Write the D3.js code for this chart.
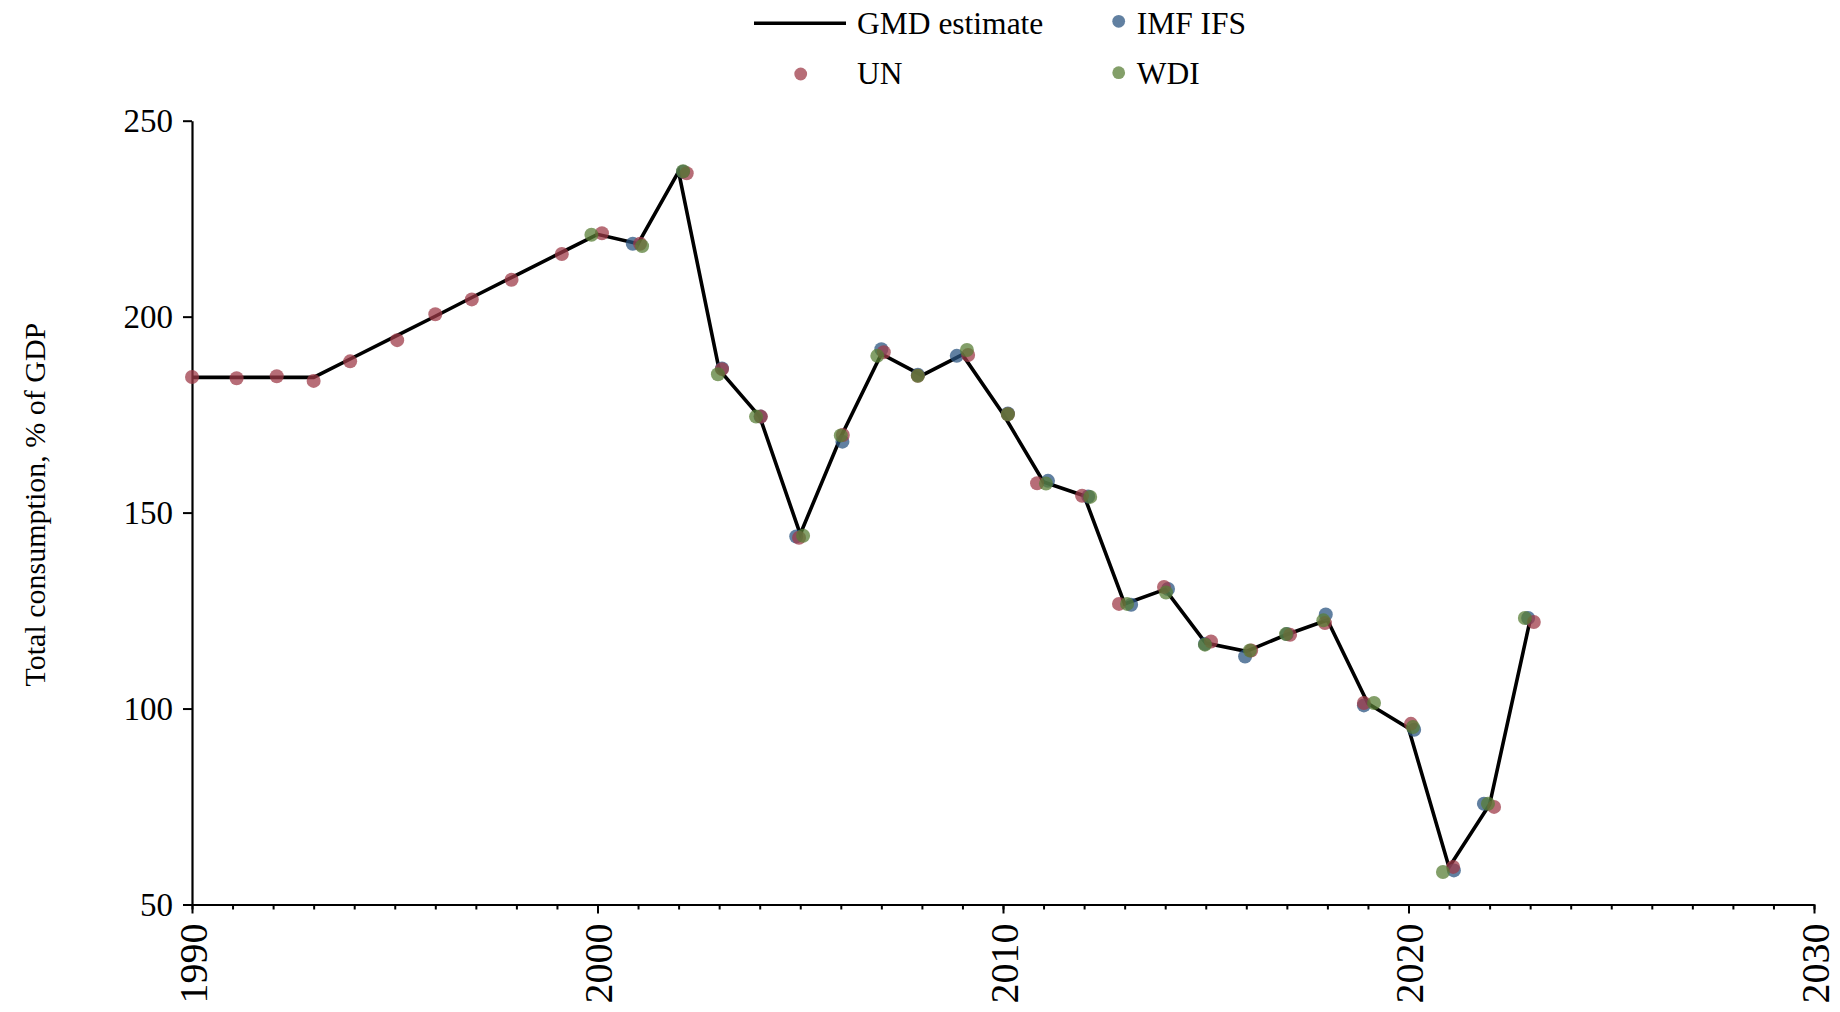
<!DOCTYPE html>
<html>
<head>
<meta charset="utf-8">
<script src="https://cdn.jsdelivr.net/npm/d3@7"></script>
<style>
  html, body { margin: 0; padding: 0; background: #fff; }
  svg { display: block; font-family: "Liberation Serif", "Times New Roman", serif; }
</style>
</head>
<body>
<svg id="chart" width="1840" height="1012"></svg>
<script>
// ---- data ----
const years = [1990,1991,1992,1993,1994,1995,1996,1997,1998,1999,
               2000,2001,2002,2003,2004,2005,2006,2007,2008,2009,
               2010,2011,2012,2013,2014,2015,2016,2017,2018,2019,
               2020,2021,2022,2023];

const gmdValues = [184.5,184.5,184.5,184.5,189.7,194.9,200.1,205.4,210.6,215.8,
                   221.0,218.6,237.0,186.5,174.5,144.5,169.3,190.5,185.0,190.3,
                   175.2,157.8,154.3,126.7,130.4,116.7,114.6,118.9,122.6,101.3,
                   95.0,59.5,75.5,122.6];

const unValues = [184.6,184.3,184.8,183.6,188.6,194.0,200.6,204.4,209.4,216.0,
                  221.3,218.6,236.6,186.6,174.5,143.6,169.8,190.9,184.9,190.2,
                  175.1,157.5,154.3,126.7,131.0,117.1,114.8,118.8,121.8,101.4,
                  96.1,59.6,74.9,122.1];
const unOffsets = [0,0.1,0.09,0,-0.1,0.06,0,-0.1,-0.12,0.12,
                   0.11,0.05,0.2,0.07,0.03,-0.03,0.05,0.06,-0.1,0.14,
                   0.12,-0.16,-0.05,-0.14,-0.03,0.13,0.12,0.08,-0.06,-0.1,
                   0.06,0.1,0.11,0.09];

const imfValues = [null,null,null,null,null,null,null,null,null,null,
                   null,218.6,237.0,186.8,174.5,143.9,168.1,191.7,185.2,190.0,
                   175.3,158.1,154.1,126.5,130.5,116.5,113.3,119.0,124.0,100.8,
                   94.6,58.7,75.7,123.1];
const imfOffsets = [0,0,0,0,0,0,0,0,0,0,
                    0,-0.13,0.11,0.07,0.02,-0.1,0.04,0,-0.1,-0.14,
                    0.12,0.11,0.1,0.16,0.07,-0.02,-0.03,0,-0.04,-0.1,
                    0.14,0.12,-0.14,-0.05];

const wdiValues = [null,null,null,null,null,null,null,null,null,null,
                   220.9,218.0,237.1,185.3,174.5,144.1,169.7,190.0,184.9,191.5,
                   175.1,157.4,154.0,126.7,129.6,116.3,114.8,119.0,122.5,101.4,
                   95.3,58.3,75.7,123.1];
const wdiOffsets = [0,0,0,0,0,0,0,0,0,0,
                    -0.15,0.1,0.11,-0.03,-0.09,0.07,0,-0.1,-0.1,0.11,
                    0.12,0.06,0.15,0.06,0.02,-0.02,0.09,-0.02,-0.1,0.15,
                    0.11,-0.15,-0.04,-0.13];

const yTicks = [50,100,150,200,250];
const xMajorTicks = [1990,2000,2010,2020,2030];
const xMinorTicks = d3.range(1990, 2031);

const seriesNames = ["GMD estimate","IMF IFS","UN","WDI"];
const colors = { imf: "#2a5480", un: "#9e3a47", wdi: "#587d35" };

// ---- layout ----
const svg = d3.select("#chart");
const plotLeft = 192, plotRight = 1814, plotTop = 120.7, plotBottom = 904.5;
const x = d3.scaleLinear().domain([1990, 2030]).range([plotLeft, plotRight]);
const y = d3.scaleLinear().domain([50, 250]).range([plotBottom, plotTop]);
const font = '"Liberation Serif", "Times New Roman", serif';

// x axis minor ticks
const gxMinor = svg.append("g").attr("transform", `translate(0,${plotBottom})`)
  .call(d3.axisBottom(x).tickValues(xMinorTicks).tickSize(5).tickFormat(""));
gxMinor.select(".domain").remove();
gxMinor.selectAll("line").attr("stroke", "#000").attr("stroke-width", 2);

// x axis major
const gx = svg.append("g").attr("transform", `translate(0,${plotBottom})`)
  .call(d3.axisBottom(x).tickValues(xMajorTicks).tickSize(9).tickSizeOuter(0).tickFormat(d3.format("d")));
gx.select(".domain").attr("stroke", "#000").attr("stroke-width", 2.2);
gx.selectAll("line").attr("stroke", "#000").attr("stroke-width", 2);
gx.selectAll("text")
  .attr("font-family", font).attr("font-size", 40).attr("fill", "#000")
  .attr("transform", "rotate(-90)")
  .attr("text-anchor", "end")
  .attr("x", -19).attr("y", 0).attr("dy", "0.35em");

// y axis
const gy = svg.append("g").attr("transform", `translate(${plotLeft},0)`)
  .call(d3.axisLeft(y).tickValues(yTicks).tickSize(9).tickSizeOuter(0).tickPadding(10));
gy.select(".domain").attr("stroke", "#000").attr("stroke-width", 2.2);
gy.selectAll("line").attr("stroke", "#000").attr("stroke-width", 2);
gy.selectAll("text").attr("font-family", font).attr("font-size", 33).attr("fill", "#000").attr("dy", "0.33em");

// y title
svg.append("text")
  .attr("transform", `translate(45,${(plotTop + plotBottom) / 2 - 8}) rotate(-90)`)
  .attr("text-anchor", "middle")
  .attr("font-family", font).attr("font-size", 30).attr("fill", "#000")
  .text("Total consumption, % of GDP");

// GMD line
const gmdData = years.map((yr, i) => ({ yr, v: gmdValues[i] }));
svg.append("path").datum(gmdData)
  .attr("fill", "none").attr("stroke", "#000").attr("stroke-width", 3.6)
  .attr("stroke-linejoin", "miter")
  .attr("d", d3.line().x(d => x(d.yr)).y(d => y(d.v)));

// dots
function drawDots(values, offsets, color) {
  const data = years.map((yr, i) => ({ yr: yr + offsets[i], v: values[i] })).filter(d => d.v != null);
  svg.append("g").selectAll("circle").data(data).enter().append("circle")
    .attr("cx", d => x(d.yr)).attr("cy", d => y(d.v)).attr("r", 7)
    .attr("fill", color).attr("fill-opacity", 0.74);
}
drawDots(imfValues, imfOffsets, colors.imf);
drawDots(unValues, unOffsets, colors.un);
drawDots(wdiValues, wdiOffsets, colors.wdi);

// legend
const lg = svg.append("g");
lg.append("line").attr("x1", 754).attr("x2", 846).attr("y1", 23.3).attr("y2", 23.3)
  .attr("stroke", "#000").attr("stroke-width", 3.6);
lg.append("text").attr("x", 857).attr("y", 33.5).text(seriesNames[0]);
lg.append("circle").attr("cx", 1118.7).attr("cy", 21.3).attr("r", 6.4).attr("fill", colors.imf).attr("fill-opacity", 0.74);
lg.append("text").attr("x", 1136.7).attr("y", 33.5).text(seriesNames[1]);
lg.append("circle").attr("cx", 800.7).attr("cy", 74).attr("r", 6.4).attr("fill", colors.un).attr("fill-opacity", 0.74);
lg.append("text").attr("x", 857).attr("y", 83.5).text(seriesNames[2]);
lg.append("circle").attr("cx", 1118.7).attr("cy", 72.7).attr("r", 6.4).attr("fill", colors.wdi).attr("fill-opacity", 0.74);
lg.append("text").attr("x", 1136.7).attr("y", 83.5).text(seriesNames[3]);
lg.selectAll("text").attr("font-family", font).attr("font-size", 31.5).attr("fill", "#000");
</script>
</body>
</html>
